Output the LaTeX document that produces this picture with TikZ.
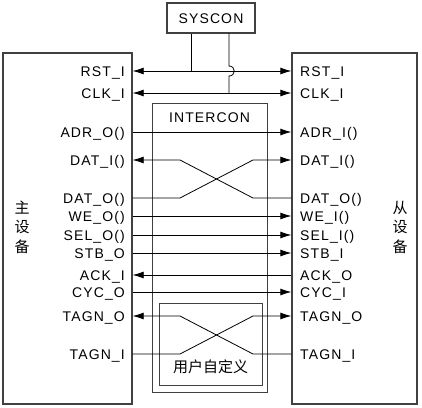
\documentclass[tikz,border=0pt]{standalone}
\usepackage{fontspec}
\setmainfont{Liberation Sans}[LetterSpace=8]
\newfontfamily\cjk{Noto Sans CJK SC}
\usetikzlibrary{arrows.meta}

\begin{document}
\begin{tikzpicture}[x=1pt,y=-1pt,
		box/.style = {draw=black!75, line width=1.3pt, inner sep=0pt},
		sig/.style = {line width=0.8pt},
		lbl/.style = {inner sep=0pt, text height=10pt, text depth=0pt, font=\fontsize{14}{16}\selectfont},
		han/.style = {inner sep=0pt, align=center, font=\fontsize{15}{19.5}\selectfont\cjk},
		>={Latex[length=11pt,width=7pt]}]
		\useasboundingbox (0,0) rectangle (422,407);
		\node[box, minimum width=129pt, minimum height=351pt] (master) at (67.5,228.5) {};
		\node[box, minimum width=125pt, minimum height=351pt] (slave) at (354.5,228.5) {};
		\node[box, lbl, minimum width=88pt, minimum height=30pt] (syscon) at (211,18) {SYSCON};
		\node[box, line width=1pt, minimum width=115pt, minimum height=289pt] (intercon) at (209.5,247.5) {};
		\node[lbl, anchor = north] (interlbl) at (209.5,112) {INTERCON};
		\node[box, line width=1pt, minimum width=103pt, minimum height=82pt] (user) at (210.5,344) {};
		\node[han] (userlbl) at (210.5,367) {用户自定义};
		\node[han] (mname) at (22,227) {主\\设\\备};
		\node[han] (sname) at (400,227) {从\\设\\备};
		\foreach \t/\y [count=\i] in {RST\_I/71, CLK\_I/93, ADR\_O()/132, DAT\_I()/160, DAT\_O()/198, WE\_O()/216, SEL\_O()/235, STB\_O/253, ACK\_I/275, CYC\_O/292, TAGN\_O/316, TAGN\_I/354}
			\node[lbl, anchor = east] (m\i) at (125,\y) {\t};
		\foreach \t/\y [count=\i] in {RST\_I/71, CLK\_I/93, ADR\_I()/132, DAT\_I()/160, DAT\_O()/198, WE\_I()/216, SEL\_I()/235, STB\_I/253, ACK\_O/275, CYC\_I/292, TAGN\_O/316, TAGN\_I/354}
			\node[lbl, anchor = west] (s\i) at (300,\y) {\t};
		\foreach \i in {1,2}
			\draw[sig,<->] (master.east |- m\i.east) -- (slave.west |- s\i.west);
		\foreach \i in {3,6,7,8,10}
			\draw[sig,->] (master.east |- m\i.east) -- (slave.west |- s\i.west);
		\draw[sig,<-] (master.east |- m9.east) -- (slave.west |- s9.west);
		\coordinate (xl) at (180,0);
		\coordinate (xr) at (253,0);
		\draw[sig,<-] (master.east |- m4.east) -- (m4 -| xl) -- (s5 -| xr) -- (slave.west |- s5.west);
		\draw[sig,->] (master.east |- m5.east) -- (m5 -| xl) -- (s4 -| xr) -- (slave.west |- s4.west);
		\draw[sig,<-] (master.east |- m11.east) -- (m11 -| xl) -- (s12 -| xr) -- (slave.west |- s12.west);
		\draw[sig,->] (master.east |- m12.east) -- (m12 -| xl) -- (s11 -| xr) -- (slave.west |- s11.west);
		\coordinate (tapL) at (191,0);
		\coordinate (tapR) at (229,0);
		\draw[sig] (syscon.south -| tapL) -- (m1 -| tapL);
		\draw[sig] (syscon.south -| tapR) -- ([yshift=5pt]m1 -| tapR)
			.. controls +(7,0) and +(7,0) .. ([yshift=-5pt]m1 -| tapR) -- (m2 -| tapR);
	\end{tikzpicture}
\end{document}
